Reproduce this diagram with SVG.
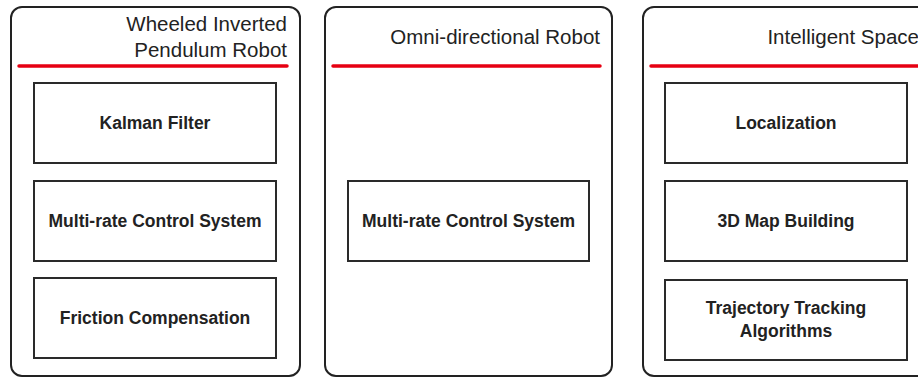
<svg xmlns="http://www.w3.org/2000/svg" width="918" height="378" viewBox="0 0 918 378">
<style>
.panel{fill:#fff;stroke:#222;stroke-width:2}
.bar{stroke:#e60012;stroke-width:3.5;stroke-linecap:round}
.box{fill:#fff;stroke:#2a2a2a;stroke-width:2}
.title{font-family:"Liberation Sans",Arial,sans-serif;font-size:20.5px;fill:#222;text-anchor:end}
.label{font-family:"Liberation Sans",Arial,sans-serif;font-size:17.5px;font-weight:bold;fill:#222;text-anchor:middle}
</style>
<rect width="918" height="378" fill="#fff"/>
<g id="panel-wipr">
  <rect class="panel" x="11" y="7" width="289" height="369" rx="11"/>
  <text class="title" x="287" y="31">Wheeled Inverted</text>
  <text class="title" x="287" y="57">Pendulum Robot</text>
  <line class="bar" x1="19" y1="66" x2="287" y2="66"/>
</g>
<g id="kalman">
  <rect class="box" x="34" y="83" width="242" height="80"/>
  <text class="label" x="155" y="129">Kalman Filter</text>
</g>
<g id="multirate-1">
  <rect class="box" x="34" y="181" width="242" height="80"/>
  <text class="label" x="155" y="227">Multi-rate Control System</text>
</g>
<g id="friction">
  <rect class="box" x="34" y="278" width="242" height="80"/>
  <text class="label" x="155" y="324">Friction Compensation</text>
</g>
<g id="panel-omni">
  <rect class="panel" x="325" y="7" width="287" height="369" rx="11"/>
  <text class="title" x="600" y="44">Omni-directional Robot</text>
  <line class="bar" x1="333" y1="66" x2="600" y2="66"/>
</g>
<g id="multirate-2">
  <rect class="box" x="348" y="181" width="241" height="80"/>
  <text class="label" x="468.5" y="227">Multi-rate Control System</text>
</g>
<g id="panel-ispace">
  <rect class="panel" x="643" y="7" width="289" height="369" rx="11"/>
  <text class="title" x="919" y="44">Intelligent Space</text>
  <line class="bar" x1="651" y1="66" x2="925" y2="66"/>
</g>
<g id="localization">
  <rect class="box" x="665" y="83" width="242" height="80"/>
  <text class="label" x="786" y="129">Localization</text>
</g>
<g id="mapbuilding">
  <rect class="box" x="665" y="181" width="242" height="80"/>
  <text class="label" x="786" y="227">3D Map Building</text>
</g>
<g id="trajectory">
  <rect class="box" x="665" y="280" width="242" height="80"/>
  <text class="label" x="786" y="314">Trajectory Tracking</text>
  <text class="label" x="786" y="337">Algorithms</text>
</g>
</svg>
